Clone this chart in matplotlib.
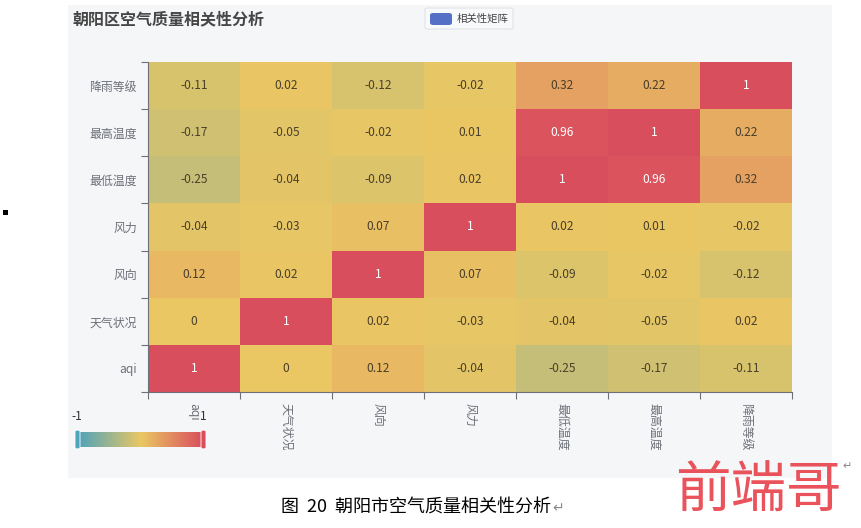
import numpy as np
import matplotlib
matplotlib.use("Agg")
import matplotlib.pyplot as plt
from matplotlib.colors import LinearSegmentedColormap
from matplotlib.patches import Rectangle, FancyBboxPatch

plt.rcParams['font.family'] = ['Noto Sans CJK SC', 'DejaVu Sans']

# ---- data ----
x_labels = ['aqi', '天气状况', '风向', '风力', '最低温度', '最高温度', '降雨等级']
y_labels = ['aqi', '天气状况', '风向', '风力', '最低温度', '最高温度', '降雨等级']
# rows follow y_labels (bottom to top), columns follow x_labels
corr = [
    [1.00, 0.00, 0.12, -0.04, -0.25, -0.17, -0.11],   # aqi
    [0.00, 1.00, 0.02, -0.03, -0.04, -0.05, 0.02],    # 天气状况
    [0.12, 0.02, 1.00, 0.07, -0.09, -0.02, -0.12],    # 风向
    [-0.04, -0.03, 0.07, 1.00, 0.02, 0.01, -0.02],    # 风力
    [-0.25, -0.04, -0.09, 0.02, 1.00, 0.96, 0.32],    # 最低温度
    [-0.17, -0.05, -0.02, 0.01, 0.96, 1.00, 0.22],    # 最高温度
    [-0.11, 0.02, -0.12, -0.02, 0.32, 0.22, 1.00],    # 降雨等级
]
title = '朝阳区空气质量相关性分析'
legend_name = '相关性矩阵'
caption = '图  20  朝阳市空气质量相关性分析'
watermark = '前端哥'
vmin, vmax = -1, 1

W, H = 861, 528
fig = plt.figure(figsize=(W / 100, H / 100), dpi=100)
fig.patch.set_facecolor('white')

def fx(px):
    return px / W

def fy(py):
    return 1 - py / H

# chart panel background
fig.patches.append(Rectangle((fx(68), fy(478)), fx(832) - fx(68), fy(5) - fy(478),
                             transform=fig.transFigure, facecolor='#f5f6f8',
                             edgecolor='none', zorder=-5))
# small black square at left
fig.patches.append(Rectangle((fx(3), fy(215)), fx(5), 5 / H,
                             transform=fig.transFigure, facecolor='black',
                             edgecolor='none', zorder=1))

cmap = LinearSegmentedColormap.from_list('ec', ['#50a3ba', '#eac763', '#d94e5d'])

ax = fig.add_axes([fx(148), fy(392), fx(792) - fx(148), fy(62) - fy(392)])
ax.set_zorder(3)
ax.set_facecolor('none')
data = np.array(corr)
ax.pcolormesh(np.arange(len(x_labels) + 1) - 0.5, np.arange(len(y_labels) + 1) - 0.5,
              data, cmap=cmap, vmin=vmin, vmax=vmax, shading='flat')
for i in range(len(y_labels)):
    for j in range(len(x_labels)):
        v = data[i, j]
        txt = f'{v:g}'
        col = 'white' if v >= 0.9 else '#4a3f2a'
        ax.text(j, i, txt, ha='center', va='center', fontsize=8.6, color=col)

ax.set_xlim(-0.5, len(x_labels) - 0.5)
ax.set_ylim(-0.5, len(y_labels) - 0.5)
ax.set_xticks(np.arange(len(x_labels)))
ax.set_xticklabels(x_labels, rotation=-90, fontsize=8.6, color='#6e7079', va='top', ha='center')
ax.set_yticks(np.arange(len(y_labels)))
ax.set_yticklabels(y_labels, fontsize=8.6, color='#6e7079')
ax.set_xticks(np.arange(len(x_labels) + 1) - 0.5, minor=True)
ax.set_yticks(np.arange(len(y_labels) + 1) - 0.5, minor=True)
ax.tick_params(axis='both', which='major', length=0, pad=8)
ax.tick_params(axis='both', which='minor', length=5, color='#6e7079', width=0.8)
for s in ['top', 'right']:
    ax.spines[s].set_visible(False)
for s in ['left', 'bottom']:
    ax.spines[s].set_color('#6e7079')
    ax.spines[s].set_linewidth(0.8)

# title
fig.text(fx(72), fy(19), title, fontsize=11.5, fontweight='bold', color='#464646',
         ha='left', va='center')
# legend (with light border box)
fig.patches.append(FancyBboxPatch((fx(425), fy(29)), fx(513) - fx(425), 21 / H,
                                  boxstyle='round,pad=0,rounding_size=0.003',
                                  transform=fig.transFigure, facecolor='#f8f9fb',
                                  edgecolor='#e2e3e6', linewidth=0.8, zorder=1))
fig.patches.append(FancyBboxPatch((fx(430), fy(25)), fx(22), 12 / H,
                                  boxstyle='round,pad=0,rounding_size=0.004',
                                  transform=fig.transFigure, facecolor='#5470c6',
                                  edgecolor='none', zorder=2))
fig.text(fx(457), fy(19), legend_name, fontsize=7.5, color='#444444', ha='left', va='center')

# visual map (colorbar)
cax = fig.add_axes([fx(79), fy(447), fx(203) - fx(79), 15 / H])
cax.set_zorder(3)
grad = np.linspace(vmin, vmax, 256).reshape(1, -1)
cax.imshow(grad, aspect='auto', cmap=cmap, vmin=vmin, vmax=vmax, extent=[vmin, vmax, 0, 1])
cax.set_axis_off()
fig.patches.append(FancyBboxPatch((fx(75), fy(449)), fx(5), 19 / H,
                                  boxstyle='round,pad=0,rounding_size=0.003',
                                  transform=fig.transFigure, facecolor='#50a3ba',
                                  edgecolor='white', linewidth=0.6, zorder=5))
fig.patches.append(FancyBboxPatch((fx(201), fy(449)), fx(5), 19 / H,
                                  boxstyle='round,pad=0,rounding_size=0.003',
                                  transform=fig.transFigure, facecolor='#d94e5d',
                                  edgecolor='white', linewidth=0.6, zorder=5))
fig.text(fx(77), fy(416), f'{vmin:g}', fontsize=8.6, color='#333333', ha='center', va='center')
fig.text(fx(203), fy(416), f'{vmax:g}', fontsize=8.6, color='#333333', ha='center', va='center')

# caption
cap = fig.text(fx(281), fy(508), caption, fontsize=13, color='black', ha='left', va='center')
fig.canvas.draw()
bb = cap.get_window_extent()
fig.text(bb.x1 / W + 1 / W, fy(508), '↵', fontsize=10, color='#888888', ha='left',
         va='center', family=['DejaVu Sans'])
# watermark
fig.text(fx(758), fy(492), watermark, fontsize=40, color='#e8404a', ha='center', va='center',
         fontweight='light', alpha=0.9)
fig.text(fx(842), fy(466), '↵', fontsize=8, color='#888888', ha='left', va='center',
         family=['DejaVu Sans'])

fig.savefig('out.png', dpi=100)
